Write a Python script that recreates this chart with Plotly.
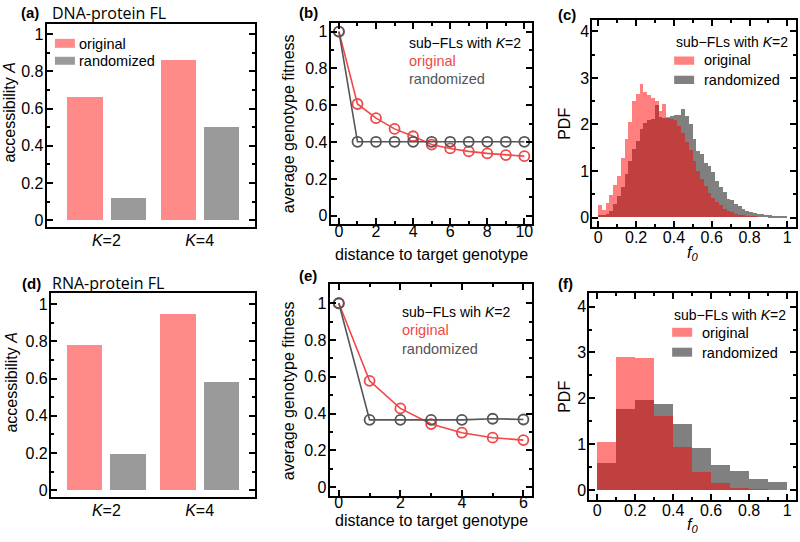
import numpy as np
import plotly.graph_objects as go

# ---------------- data ----------------
bar_categories = ["<i>K</i>=2", "<i>K</i>=4"]
dna_original = [0.664, 0.859]
dna_randomized = [0.121, 0.504]
rna_original = [0.779, 0.946]
rna_randomized = [0.196, 0.582]

dist_b = [0, 1, 2, 3, 4, 5, 6, 7, 8, 9, 10]
fit_b_original = [1.0, 0.607, 0.530, 0.472, 0.432, 0.387, 0.366, 0.350, 0.339, 0.330, 0.324]
fit_b_randomized = [1.0, 0.402, 0.402, 0.402, 0.402, 0.402, 0.402, 0.402, 0.402, 0.402, 0.402]

dist_e = [0, 1, 2, 3, 4, 5, 6]
fit_e_original = [1.0, 0.578, 0.428, 0.343, 0.296, 0.269, 0.256]
fit_e_randomized = [1.0, 0.366, 0.366, 0.366, 0.366, 0.372, 0.368]

c_bin_width = 0.02
c_bin_left = np.round(np.arange(0, 1, c_bin_width), 4)
pdf_c_original = [0.25, 0.16, 0.30, 0.48, 0.68, 0.89, 1.28, 1.67, 2.04, 2.49,
                  2.64, 2.85, 2.68, 2.63, 2.56, 2.50, 2.28, 2.43, 2.15, 2.10,
                  2.08, 1.95, 1.80, 1.62, 1.45, 1.20, 1.00, 0.82, 0.66, 0.52,
                  0.42, 0.32, 0.25, 0.18, 0.13, 0.10, 0.07, 0.05, 0.04, 0.03,
                  0.02, 0.02, 0.01, 0.01, 0.005, 0.0, 0.0, 0.0, 0.0, 0.0]
pdf_c_randomized = [0.05, 0.05, 0.06, 0.14, 0.28, 0.45, 0.65, 0.93, 1.21, 1.46,
                    1.64, 1.90, 2.03, 2.08, 2.10, 2.40, 2.15, 2.12, 2.12, 2.18,
                    2.20, 2.20, 2.33, 2.17, 2.00, 1.67, 1.42, 1.35, 1.17, 1.10,
                    0.96, 0.78, 0.64, 0.53, 0.39, 0.36, 0.28, 0.23, 0.18, 0.14,
                    0.11, 0.09, 0.07, 0.06, 0.05, 0.04, 0.03, 0.02, 0.01, 0.01]

f_bin_width = 0.1
f_bin_left = [0.0, 0.1, 0.2, 0.3, 0.4, 0.5, 0.6, 0.7, 0.8, 0.9]
pdf_f_original = [1.04, 2.91, 2.88, 1.61, 0.94, 0.39, 0.16, 0.05, 0.02, 0.005]
pdf_f_randomized = [0.59, 1.76, 1.96, 1.88, 1.43, 0.91, 0.55, 0.41, 0.25, 0.17]

# ---------------- style ----------------
W, H = 800, 542
BAR_RED = "#ff8a8a"
BAR_GRAY = "#9a9a9a"
LINE_RED = "#f04848"
LINE_GRAY = "#555555"
HIST_GRAY = "#808080"
HIST_RED = "rgba(255,0,0,0.5)"
TICKFONT = dict(family="Liberation Sans, Arial", size=16, color="black")
FONT = "Liberation Sans, Arial"


def X(px):
    return px / W


def Y(py):
    return 1 - py / H


def dom(x0, x1, y0, y1):
    return [X(x0), X(x1)], [Y(y1), Y(y0)]


panels = {
    "a": dom(46.7, 255, 24, 228),
    "b": dom(331, 533, 23, 225),
    "c": dom(593, 797, 20.5, 228),
    "d": dom(51, 255, 294, 498.7),
    "e": dom(330, 533, 285, 498),
    "f": dom(590, 797, 294, 501.7),
}
order = ["a", "b", "c", "d", "e", "f"]

fig = go.Figure()


def axref(i):
    return ("x" if i == 0 else f"x{i+1}"), ("y" if i == 0 else f"y{i+1}")


def base_axis(**kw):
    d = dict(showline=True, linecolor="black", linewidth=2, mirror="allticks",
             ticks="inside", ticklen=6, tickwidth=1.5, tickcolor="black",
             showgrid=False, zeroline=False, tickfont=TICKFONT, fixedrange=True,
             ticklabelstandoff=-2)
    d.update(kw)
    return d


layout = dict(width=W, height=H, margin=dict(l=0, r=0, t=0, b=0), autosize=False,
              paper_bgcolor="white", plot_bgcolor="white", showlegend=False,
              barmode="overlay", bargap=0)

# --- bar panels a, d
for key, orig, rand, xr, yr in [("a", dna_original, dna_randomized, [-0.64, 1.59], [-0.0375, 1.055]),
                                ("d", rna_original, rna_randomized, [-0.594, 1.59], [-0.036, 1.06])]:
    i = order.index(key)
    xa, ya = axref(i)
    fig.add_trace(go.Bar(x=bar_categories, y=orig, xaxis=xa, yaxis=ya, marker_color=BAR_RED,
                         marker_line_width=0, width=0.38, offset=-0.4225))
    fig.add_trace(go.Bar(x=bar_categories, y=rand, xaxis=xa, yaxis=ya, marker_color=BAR_GRAY,
                         marker_line_width=0, width=0.38, offset=0.0425))
    dx, dy = panels[key]
    n = "" if i == 0 else str(i + 1)
    layout["xaxis" + n] = base_axis(domain=dx, anchor=ya, type="category", range=xr, ticks="",
                                    mirror=True, ticklabelstandoff=-2)
    layout["yaxis" + n] = base_axis(domain=dy, anchor=xa, range=yr, dtick=0.2, tick0=0,
                                    tickformat="~g",
                                    minor=dict(ticks="inside", ticklen=3, dtick=0.1, tickcolor="black",
                                               showgrid=False))

# --- line panels b, e
for key, xs, o, r, xr, yr, xdt, so in [("b", dist_b, fit_b_original, fit_b_randomized, [-0.45, 10.43], [-0.045, 1.047], 2, -8),
                                       ("e", dist_e, fit_e_original, fit_e_randomized, [-0.3, 6.29], [-0.049, 1.105], 2, -9)]:
    i = order.index(key)
    xa, ya = axref(i)
    fig.add_trace(go.Scatter(x=xs, y=o, xaxis=xa, yaxis=ya, mode="lines+markers",
                             line=dict(color=LINE_RED, width=1.6),
                             marker=dict(symbol="circle-open", size=10, color=LINE_RED,
                                         line=dict(width=1.8, color=LINE_RED))))
    fig.add_trace(go.Scatter(x=xs, y=r, xaxis=xa, yaxis=ya, mode="lines+markers",
                             line=dict(color=LINE_GRAY, width=1.6),
                             marker=dict(symbol="circle-open", size=10, color=LINE_GRAY,
                                         line=dict(width=1.8, color=LINE_GRAY))))
    dx, dy = panels[key]
    n = str(i + 1)
    layout["xaxis" + n] = base_axis(domain=dx, anchor=ya, range=xr, dtick=xdt, tick0=0,
                                    ticklabelstandoff=so,
                                    minor=dict(ticks="inside", ticklen=3, dtick=1, tickcolor="black",
                                               showgrid=False))
    layout["yaxis" + n] = base_axis(domain=dy, anchor=xa, range=yr, dtick=0.2, tick0=0,
                                    tickformat="~g",
                                    minor=dict(ticks="inside", ticklen=3, dtick=0.1, tickcolor="black",
                                               showgrid=False))

# --- histogram panels c, f
for key, left, bw, o, r, xr, yr in [("c", c_bin_left, c_bin_width, pdf_c_original, pdf_c_randomized, [-0.032, 1.046], [-0.207, 4.235]),
                                    ("f", f_bin_left, f_bin_width, pdf_f_original, pdf_f_randomized, [-0.042, 1.047], [-0.217, 4.30])]:
    i = order.index(key)
    xa, ya = axref(i)
    fig.add_trace(go.Bar(x=list(left), y=r, xaxis=xa, yaxis=ya, marker_color=HIST_GRAY,
                         marker_line_width=0, width=bw, offset=0))
    fig.add_trace(go.Bar(x=list(left), y=o, xaxis=xa, yaxis=ya, marker_color=HIST_RED,
                         marker_line_width=0, width=bw, offset=0))
    dx, dy = panels[key]
    n = str(i + 1)
    layout["xaxis" + n] = base_axis(domain=dx, anchor=ya, range=xr, dtick=0.2, tick0=0,
                                    tickformat="~g", ticklabelstandoff=-5,
                                    minor=dict(ticks="inside", ticklen=3, dtick=0.1, tickcolor="black",
                                               showgrid=False))
    layout["yaxis" + n] = base_axis(domain=dy, anchor=xa, range=yr, dtick=1, tick0=0,
                                    minor=dict(ticks="inside", ticklen=3, dtick=0.5, tickcolor="black",
                                               showgrid=False))

# ---------------- annotations ----------------
ann = []


def txt(x, y, s, size=15, color="black", xanchor="left", angle=0, family=FONT):
    ann.append(dict(x=X(x), y=Y(y), xref="paper", yref="paper", text=s, showarrow=False,
                    xanchor=xanchor, yanchor="middle", textangle=angle,
                    font=dict(family=family, size=size, color=color)))


# panel labels
for lab, x, y in [("(a)", 19, 13), ("(b)", 297, 13), ("(c)", 557, 15),
                  ("(d)", 20, 285), ("(e)", 297, 277), ("(f)", 557, 285)]:
    txt(x, y, f"<b>{lab}</b>", size=15)
txt(50, 13, "DNA-protein FL", size=16, family="Open Sans")
txt(50, 284, "RNA-protein FL", size=16, family="Open Sans")

# axis titles
txt(10, 113, "accessibility <i>A</i>", size=16, xanchor="center", angle=-90)
txt(12, 384, "accessibility <i>A</i>", size=16, xanchor="center", angle=-90)
txt(289, 124, "average genotype fitness", size=16, xanchor="center", angle=-90)
txt(289, 392, "average genotype fitness", size=16, xanchor="center", angle=-90)
txt(565, 124, "PDF", size=16, xanchor="center", angle=-90)
txt(565, 398, "PDF", size=16, xanchor="center", angle=-90)
txt(432, 255, "distance to target genotype", size=16, xanchor="center")
txt(432, 522, "distance to target genotype", size=16, xanchor="center")
txt(693, 254, "<i>f<sub>0</sub></i>", size=16, xanchor="center")
txt(693, 527, "<i>f<sub>0</sub></i>", size=16, xanchor="center")

# legends panel a
shapes = []


def swatch(x0, y0, x1, y1, color):
    shapes.append(dict(type="rect", xref="paper", yref="paper", x0=X(x0), x1=X(x1), y0=Y(y1), y1=Y(y0),
                       fillcolor=color, line=dict(width=0)))


swatch(55, 39, 75, 48, BAR_RED)
swatch(55, 57, 75, 65, BAR_GRAY)
txt(77, 43.7, "original", size=14.5)
txt(77, 61, "randomized", size=14.5)

# legends panel b, e
txt(408, 42.7, "sub\u2212FLs with <i>K</i>=2", size=14)
txt(408, 61, "original", size=14.5, color=LINE_RED)
txt(408, 79.3, "randomized", size=14.5, color=LINE_GRAY)
txt(401, 312.7, "sub\u2212FLs wih <i>K</i>=2", size=14)
txt(401, 331.7, "original", size=14.5, color=LINE_RED)
txt(401, 350, "randomized", size=14.5, color=LINE_GRAY)

# legends panel c, f
txt(675, 41.7, "sub\u2212FLs with <i>K</i>=2", size=14)
swatch(675, 56.7, 695, 65, "#ff8080")
swatch(675, 76, 695, 84.3, HIST_GRAY)
txt(703, 60.7, "original", size=14.5)
txt(703, 80, "randomized", size=14.5)
txt(673, 316, "sub\u2212FLs with <i>K</i>=2", size=14)
swatch(673, 329, 693, 338, "#ff8080")
swatch(673, 349, 693, 358, HIST_GRAY)
txt(701, 334, "original", size=14.5)
txt(701, 354, "randomized", size=14.5)

layout["annotations"] = ann
layout["shapes"] = shapes
fig.update_layout(**layout)
fig.write_html("out.html", config={"displayModeBar": False},
               post_script="document.body.style.margin='0px';")
